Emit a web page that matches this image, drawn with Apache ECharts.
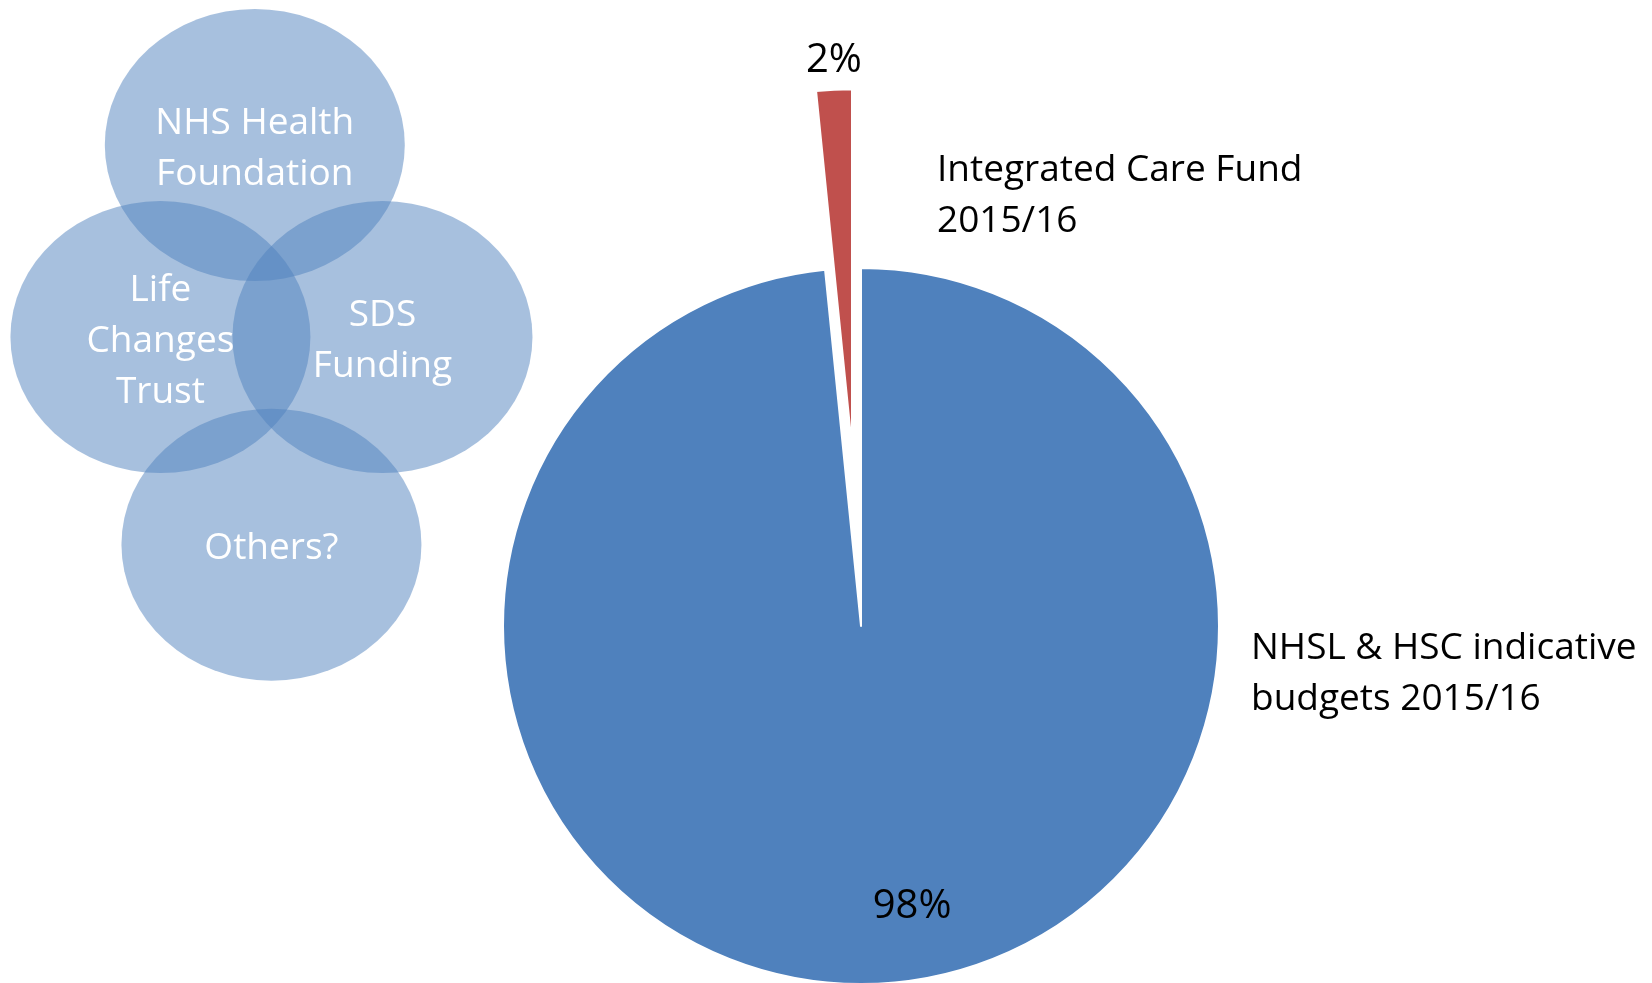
<!DOCTYPE html>
<html>
<head>
<meta charset="utf-8">
<title>Integrated Care Fund</title>
<script src="https://cdn.jsdelivr.net/npm/echarts@6/dist/echarts.min.js"></script>
<style>
    html, body { margin: 0; padding: 0; background: #fff; }
    #main { width: 1652px; height: 983px; }
</style>
</head>
<body>
<div id="main"></div>
<script>
// budget split (pie), labels are rounded percentages
var pieNames = ['NHSL & HSC indicative budgets 2015/16', 'Integrated Care Fund 2015/16'];
var pieLabels = ['NHSL & HSC indicative\nbudgets 2015/16', 'Integrated Care Fund\n2015/16'];
var pieValues = [98.4, 1.6];
var pieColors = ['#4F81BD', '#C0504D'];

// other funding sources (venn bubbles, unit = one bubble offset)
var vennNames = ['NHS Health\nFoundation', 'Life\nChanges\nTrust', 'SDS\nFunding', 'Others?'];
var vennX = [-0.15, -1, 1, 0];
var vennY = [1.73, 0, 0, -1.87];

var FONT = 'Open Sans';

function vennData() {
    var out = [];
    for (var i = 0; i < vennNames.length; i++) {
        out.push({ name: vennNames[i], value: [vennX[i], vennY[i]] });
    }
    return out;
}

function pieData() {
    var out = [];
    for (var i = 0; i < pieValues.length; i++) {
        out.push({
            name: pieNames[i],
            value: pieValues[i],
            selected: i === 1,
            itemStyle: { color: pieColors[i] }
        });
    }
    return out;
}

var chart = echarts.init(document.getElementById('main'));
var option = {
    backgroundColor: '#fff',
    animation: false,
    textStyle: { fontFamily: FONT },
    grid: { left: 5, top: 4, width: 544, height: 655 },
    xAxis: { type: 'value', min: -2.4, max: 2.5, show: false },
    yAxis: { type: 'value', min: -2.9, max: 3.0, show: false },
    graphic: [
        {
            type: 'text', left: 937, top: 145,
            style: { text: pieLabels[1], font: '37px "Open Sans"', fill: '#000', lineHeight: 51 }
        },
        {
            type: 'text', left: 1251, top: 623,
            style: { text: pieLabels[0], font: '37px "Open Sans"', fill: '#000', lineHeight: 51 }
        }
    ],
    series: [
        {
            type: 'scatter',
            z: 2,
            symbol: 'circle',
            symbolSize: [300, 272],
            itemStyle: { color: 'rgba(79,129,189,0.5)', opacity: 1 },
            silent: true,
            data: vennData()
        },
        {
            type: 'scatter',
            z: 5,
            symbolSize: 0,
            silent: true,
            itemStyle: { opacity: 1 },
            label: {
                show: true,
                position: 'inside',
                formatter: '{b}',
                color: '#fff',
                fontFamily: FONT,
                fontSize: 37,
                lineHeight: 51,
                offset: [0, 4]
            },
            data: vennData()
        },
        {
            type: 'pie',
            center: [861, 626],
            radius: 358,
            startAngle: 90,
            clockwise: true,
            percentPrecision: 0,
            selectedMode: 'single',
            selectedOffset: 179,
            silent: true,
            itemStyle: { borderColor: '#fff', borderWidth: 2 },
            label: {
                show: true,
                position: 'inside',
                formatter: '{d}%',
                color: '#000',
                fontFamily: FONT,
                fontSize: 40
            },
            labelLine: { show: false },
            labelLayout: function (params) {
                if (params.dataIndex === 1) {
                    return { dx: -9, dy: -205 };
                }
                return { dx: 42, dy: 99 };
            },
            data: pieData()
        }
    ]
};
chart.setOption(option);
</script>
</body>
</html>
